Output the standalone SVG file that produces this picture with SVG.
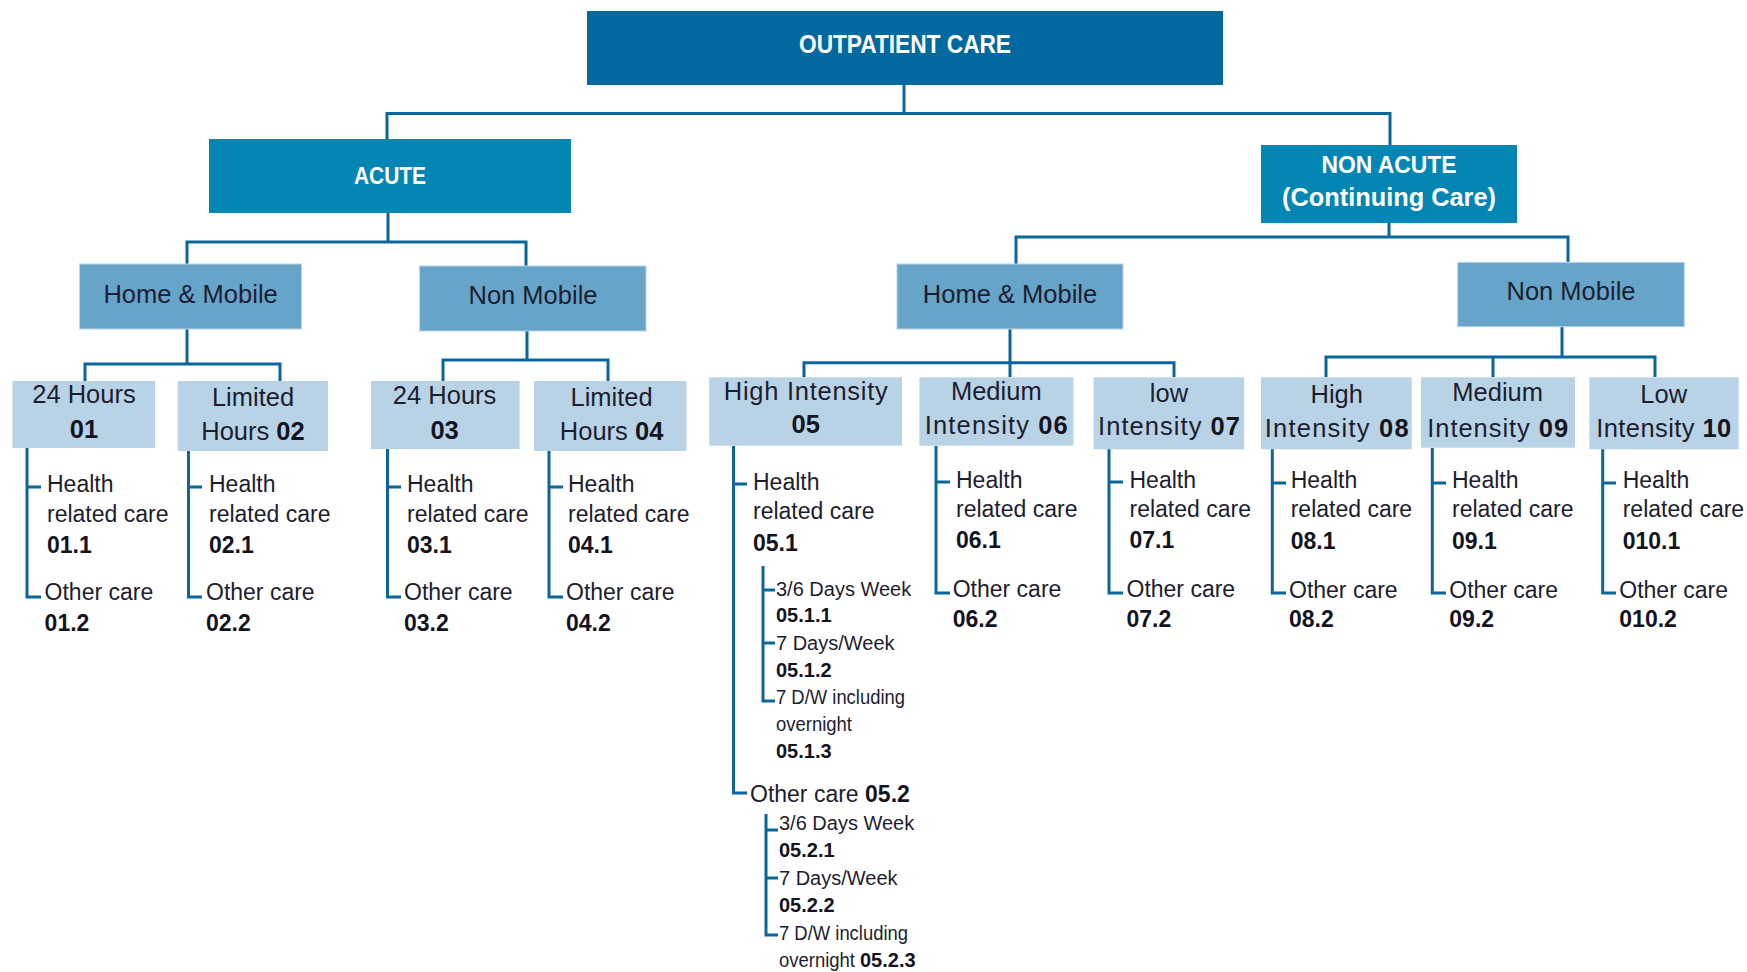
<svg xmlns="http://www.w3.org/2000/svg" width="1747" height="972" viewBox="0 0 1747 972">
<style>
text{font-family:"Liberation Sans",Arial,sans-serif;fill:#1d1d30}
.w{fill:#fff;font-weight:bold}
.bx{font-size:25.5px;text-anchor:middle}
.it{font-size:23px}
.sb{font-size:20px}
.b{font-weight:bold;fill:#141420}
.c{fill:none;stroke:#0b669b;stroke-width:3}
.root{fill:#03699f}
.l1{fill:#0386b4}
.l2{fill:#66a4c9;stroke:#b9d4e6;stroke-width:1}
.l3{fill:#b9d3e6}
</style>
<g id="connectors" class="c">
<path d="M904 85V113.5M387 139V113.5H1390V145"/>
<path d="M388 213V242M187 264V242H526V266"/>
<path d="M187 329V364M85 381V364H280V381"/>
<path d="M527 331V360M443 381V360H608V381"/>
<path d="M1389 223V237M1016 264V237H1568V262"/>
<path d="M1010 329V377M804 377V362.7H1174V377"/>
<path d="M1562 327V357M1326 377V357H1655V377M1493 357V377"/>
<path d="M27 448V597H41M27 487H41"/>
<path d="M188.5 451V597H202M188.5 487H202"/>
<path d="M387.5 449V597H401M387.5 487H401"/>
<path d="M549 451V597H563M549 487H563"/>
<path d="M733.5 446V793H747M733.5 484H747"/>
<path d="M763 566V701H775M763 590H775M763 643H775"/>
<path d="M766 814V935H778M766 830H778M766 878H778"/>
<path d="M936 446V593H950M936 482H950"/>
<path d="M1109 449V593H1123M1109 482H1123"/>
<path d="M1272.3 449V593H1286M1272.3 483H1286"/>
<path d="M1432.3 448V593H1446M1432.3 483H1446"/>
<path d="M1602.7 449V593H1616M1602.7 483H1616"/>
</g>
<g id="n-root"><rect class="root" x="587" y="11" width="636" height="74"/><text class="w" x="905" y="53" font-size="25" text-anchor="middle" textLength="212" lengthAdjust="spacingAndGlyphs">OUTPATIENT CARE</text></g>
<g id="n-acute"><rect class="l1" x="209" y="139" width="362" height="74"/><text class="w" x="390" y="184" font-size="24" text-anchor="middle" textLength="72" lengthAdjust="spacingAndGlyphs">ACUTE</text></g>
<g id="n-nonacute"><rect class="l1" x="1261" y="145" width="256" height="78"/><text class="w" x="1389" y="173" font-size="24" text-anchor="middle" textLength="135" lengthAdjust="spacingAndGlyphs">NON ACUTE</text><text class="w" x="1389" y="206" font-size="25" text-anchor="middle" textLength="214" lengthAdjust="spacingAndGlyphs">(Continuing Care)</text></g>
<g id="n-hm1"><rect class="l2" x="79.5" y="264" width="222" height="65"/><text class="bx" x="190.6" y="302.7">Home &amp; Mobile</text></g>
<g id="n-nm1"><rect class="l2" x="419.6" y="266" width="226.4" height="65"/><text class="bx" x="533" y="304">Non Mobile</text></g>
<g id="n-hm2"><rect class="l2" x="897" y="264" width="226" height="65"/><text class="bx" x="1010" y="302.7">Home &amp; Mobile</text></g>
<g id="n-nm2"><rect class="l2" x="1457.7" y="262.3" width="226.6" height="64.4"/><text class="bx" x="1571" y="300">Non Mobile</text></g>
<g id="n-01"><rect class="l3" x="12.5" y="381" width="142.5" height="67"/><text class="bx" x="84" y="403.3">24 Hours</text><text class="bx b" x="84" y="438">01</text></g>
<g id="n-02"><rect class="l3" x="177.7" y="381" width="150.3" height="70"/><text class="bx" x="253" y="405.7">Limited</text><text class="bx" x="253" y="440">Hours <tspan class="b">02</tspan></text></g>
<g id="n-03"><rect class="l3" x="371" y="381" width="148.6" height="68"/><text class="bx" x="444.6" y="404">24 Hours</text><text class="bx b" x="444.6" y="438.7">03</text></g>
<g id="n-04"><rect class="l3" x="534" y="381" width="152.6" height="70"/><text class="bx" x="611.6" y="405.7">Limited</text><text class="bx" x="611.6" y="440">Hours <tspan class="b">04</tspan></text></g>
<g id="n-05"><rect class="l3" x="709.2" y="377.3" width="192.8" height="68.4"/><text class="bx" x="805.8" y="400" textLength="164">High Intensity</text><text class="bx b" x="805.8" y="432.7">05</text></g>
<g id="n-06"><rect class="l3" x="919.4" y="377.3" width="153.9" height="68.4"/><text class="bx" x="996.3" y="400">Medium</text><text class="bx" x="996.3" y="434" textLength="143">Intensity <tspan class="b">06</tspan></text></g>
<g id="n-07"><rect class="l3" x="1093.6" y="377.3" width="150.6" height="72"/><text class="bx" x="1169" y="401.7">low</text><text class="bx" x="1169" y="435" textLength="142">Intensity <tspan class="b">07</tspan></text></g>
<g id="n-08"><rect class="l3" x="1261" y="377.3" width="150.7" height="72"/><text class="bx" x="1336.7" y="403.3">High</text><text class="bx" x="1336.7" y="436.7" textLength="144">Intensity <tspan class="b">08</tspan></text></g>
<g id="n-09"><rect class="l3" x="1421" y="377.3" width="154" height="70.4"/><text class="bx" x="1497.7" y="401">Medium</text><text class="bx" x="1497.7" y="436.7" textLength="141">Intensity <tspan class="b">09</tspan></text></g>
<g id="n-10"><rect class="l3" x="1589.3" y="377.3" width="149.4" height="72"/><text class="bx" x="1663.7" y="403.3">Low</text><text class="bx" x="1663.7" y="436.7" textLength="135">Intensity <tspan class="b">10</tspan></text></g>
<g id="l-01"><text class="it" x="47" y="492">Health</text><text class="it" x="47" y="521.7">related care</text><text class="it b" x="47" y="553">01.1</text><text class="it" x="44.6" y="600">Other care</text><text class="it b" x="44.6" y="630.7">01.2</text></g>
<g id="l-02"><text class="it" x="209" y="492">Health</text><text class="it" x="209" y="521.7">related care</text><text class="it b" x="209" y="553">02.1</text><text class="it" x="206" y="600">Other care</text><text class="it b" x="206" y="630.7">02.2</text></g>
<g id="l-03"><text class="it" x="407" y="492">Health</text><text class="it" x="407" y="521.7">related care</text><text class="it b" x="407" y="553">03.1</text><text class="it" x="404" y="600">Other care</text><text class="it b" x="404" y="630.7">03.2</text></g>
<g id="l-04"><text class="it" x="568" y="492">Health</text><text class="it" x="568" y="521.7">related care</text><text class="it b" x="568" y="553">04.1</text><text class="it" x="566" y="600">Other care</text><text class="it b" x="566" y="630.7">04.2</text></g>
<g id="l-05"><text class="it" x="753" y="490">Health</text><text class="it" x="753" y="519.3">related care</text><text class="it b" x="753" y="550.7">05.1</text>
<text class="sb" x="776" y="596">3/6 Days Week</text><text class="sb b" x="776" y="621.7">05.1.1</text>
<text class="sb" x="776" y="650">7 Days/Week</text><text class="sb b" x="776" y="676.7">05.1.2</text>
<text class="sb" x="776" y="704.3" textLength="129" lengthAdjust="spacingAndGlyphs">7 D/W including</text><text class="sb" x="776" y="730.7" textLength="76" lengthAdjust="spacingAndGlyphs">overnight</text><text class="sb b" x="776" y="758.3">05.1.3</text>
<text class="it" x="750" y="801.7" font-size="22">Other care <tspan class="b">05.2</tspan></text>
<text class="sb" x="779" y="830">3/6 Days Week</text><text class="sb b" x="779" y="857.3">05.2.1</text>
<text class="sb" x="779" y="885">7 Days/Week</text><text class="sb b" x="779" y="911.7">05.2.2</text>
<text class="sb" x="779" y="940" textLength="129" lengthAdjust="spacingAndGlyphs">7 D/W including</text><text class="sb" x="779" y="966.7" textLength="76" lengthAdjust="spacingAndGlyphs">overnight</text><text class="sb b" x="860" y="966.7">05.2.3</text></g>
<g id="l-06"><text class="it" x="956" y="488.3">Health</text><text class="it" x="956" y="517.3">related care</text><text class="it b" x="956" y="548.3">06.1</text><text class="it" x="952.7" y="597.3">Other care</text><text class="it b" x="952.7" y="626.7">06.2</text></g>
<g id="l-07"><text class="it" x="1129.5" y="488.3">Health</text><text class="it" x="1129.5" y="517.3">related care</text><text class="it b" x="1129.5" y="548.3">07.1</text><text class="it" x="1126.5" y="597.3">Other care</text><text class="it b" x="1126.5" y="626.7">07.2</text></g>
<g id="l-08"><text class="it" x="1290.7" y="488.3">Health</text><text class="it" x="1290.7" y="517.3">related care</text><text class="it b" x="1290.7" y="549">08.1</text><text class="it" x="1289" y="598.3">Other care</text><text class="it b" x="1289" y="626.7">08.2</text></g>
<g id="l-09"><text class="it" x="1452" y="488.3">Health</text><text class="it" x="1452" y="517.3">related care</text><text class="it b" x="1452" y="549">09.1</text><text class="it" x="1449.3" y="598.3">Other care</text><text class="it b" x="1449.3" y="626.7">09.2</text></g>
<g id="l-10"><text class="it" x="1622.7" y="488.3">Health</text><text class="it" x="1622.7" y="517.3">related care</text><text class="it b" x="1622.7" y="549">010.1</text><text class="it" x="1619.3" y="598.3">Other care</text><text class="it b" x="1619.3" y="626.7">010.2</text></g>
</svg>
